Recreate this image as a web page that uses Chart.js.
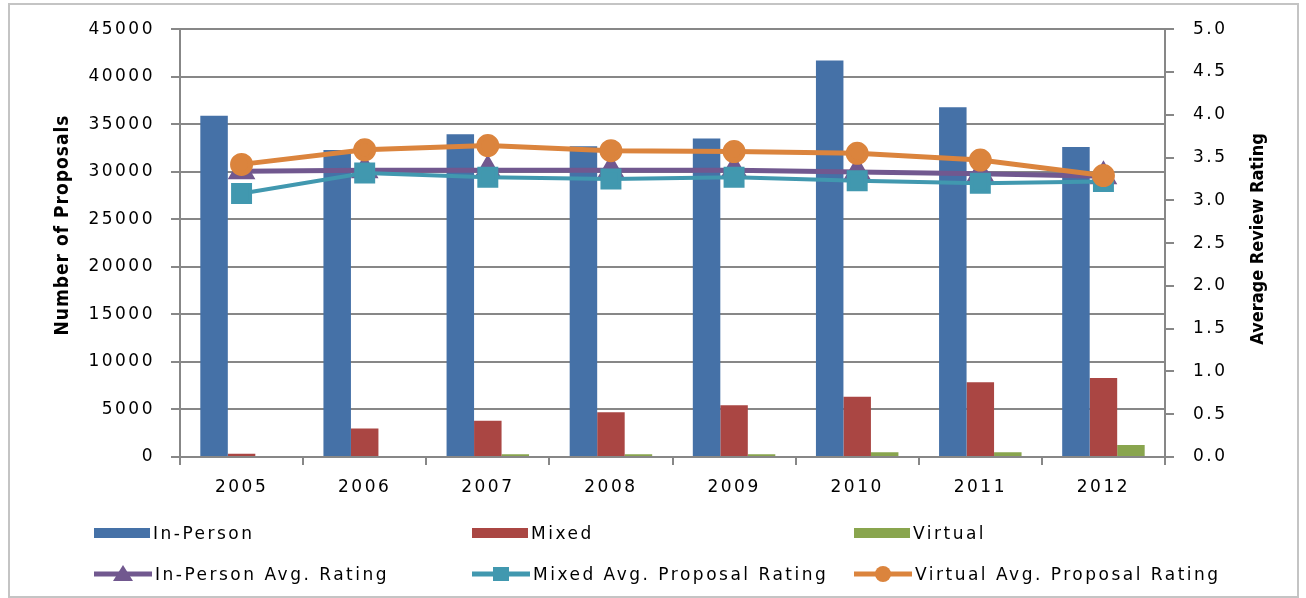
<!DOCTYPE html>
<html>
<head>
<meta charset="utf-8">
<script src="https://cdn.jsdelivr.net/npm/chart.js@4/dist/chart.umd.min.js"></script>
<style>
  body { margin: 0; background: #fff; }
  #wrap { position: relative; width: 1306px; height: 598px; }
  #frame { position: absolute; left: 8px; top: 3px; width: 1287px; height: 591px; border: 2px solid #c4c4c4; pointer-events: none; }
  .ytitle { position: absolute; white-space: nowrap; transform: translate(-50%, -50%) rotate(-90deg);
    font-family: "Liberation Sans Narrow", "DejaVu Sans Condensed", sans-serif; font-weight: bold; font-size: 19px; color: #000; letter-spacing: 1px; }
  .lg { position: absolute; height: 20px; display: flex; align-items: center; white-space: nowrap;
    font-family: "DejaVu Sans", sans-serif; font-size: 17px; letter-spacing: 2.5px; color: #000; }
  .lg svg { margin-right: 3px; }
</style>
</head>
<body>
<div id="wrap">
  <canvas id="chart"></canvas>
  <div id="frame"></div>
  <div class="ytitle" style="left:61px; top:225px">Number of Proposals</div>
  <div class="ytitle" style="left:1256px; top:239px; font-size:18px; letter-spacing:0">Average Review Rating</div>
  <div id="legend"></div>
</div>
<script>
// Datos
const years = ["2005", "2006", "2007", "2008", "2009", "2010", "2011", "2012"];
const inPerson = [35900, 32300, 33950, 32700, 33500, 41700, 36800, 32600];
const mixed = [350, 3000, 3800, 4700, 5450, 6350, 7850, 8300];
const virtual = [0, 0, 300, 300, 300, 500, 500, 1250];
const inPersonRating = [3.34, 3.35, 3.35, 3.35, 3.35, 3.33, 3.31, 3.28];
const mixedRating = [3.08, 3.32, 3.27, 3.25, 3.27, 3.23, 3.20, 3.22];
const virtualRating = [3.42, 3.59, 3.64, 3.58, 3.57, 3.55, 3.47, 3.29];

const labelsBars = ["In-Person", "Mixed", "Virtual"];
const labelsLines = ["In-Person Avg. Rating", "Mixed Avg. Proposal Rating", "Virtual Avg. Proposal Rating"];

const blue = "#4571a7", red = "#aa4643", green = "#89a54e";
const purple = "#71588f", teal = "#4198af", orange = "#db843d";
const gridGray = "#878787";
const tickFont = { family: "DejaVu Sans", size: 17 };

// espaciado entre letras como en el original
const spacing = {
  id: "spacing",
  beforeDraw(c) { c.ctx.letterSpacing = "2.5px"; }
};

const ctx = document.getElementById("chart");
const chart = new Chart(ctx, {
  data: {
    labels: years,
    datasets: [
      { type: "bar", label: labelsBars[0], data: inPerson, backgroundColor: blue, yAxisID: "y", order: 4 },
      { type: "bar", label: labelsBars[1], data: mixed, backgroundColor: red, yAxisID: "y", order: 4 },
      { type: "bar", label: labelsBars[2], data: virtual, backgroundColor: green, yAxisID: "y", order: 4 },
      { type: "line", label: labelsLines[0], data: inPersonRating, borderColor: purple, backgroundColor: purple,
        borderWidth: 5, pointStyle: "triangle", pointRadius: 11, yAxisID: "y1", order: 3 },
      { type: "line", label: labelsLines[1], data: mixedRating, borderColor: teal, backgroundColor: teal,
        borderWidth: 4, pointStyle: "rect", pointRadius: 12, yAxisID: "y1", order: 2 },
      { type: "line", label: labelsLines[2], data: virtualRating, borderColor: orange, backgroundColor: orange,
        borderWidth: 5, pointStyle: "circle", pointRadius: 9, yAxisID: "y1", order: 1 }
    ]
  },
  options: {
    responsive: true,
    maintainAspectRatio: false,
    animation: false,
    layout: { padding: { top: 28, left: 0, right: 0, bottom: 0 } },
    datasets: { bar: { barPercentage: 1, categoryPercentage: 0.67 } },
    plugins: { legend: { display: false }, tooltip: { enabled: false } },
    scales: {
      x: {
        offset: true,
        grid: { offset: true, drawOnChartArea: false, color: gridGray, lineWidth: 2, tickLength: 8 },
        border: { color: gridGray, width: 2 },
        ticks: { color: "#000", font: tickFont, padding: 12, maxRotation: 0 },
        afterFit(s) { s.height = 141; }
      },
      y: {
        position: "left", min: 0, max: 45000,
        grid: { color: gridGray, lineWidth: 2, tickLength: 9 },
        border: { color: gridGray, width: 2 },
        ticks: { stepSize: 5000, color: "#000", font: tickFont, padding: 16, callback: v => String(v) },
        afterFit(s) { s.width = 180; }
      },
      y1: {
        position: "right", min: 0, max: 5,
        grid: { drawOnChartArea: false, color: gridGray, lineWidth: 2, tickLength: 9 },
        border: { color: gridGray, width: 2 },
        ticks: { stepSize: 0.5, color: "#000", font: tickFont, padding: 19, callback: v => v.toFixed(1) },
        afterFit(s) { s.width = 141; }
      }
    }
  },
  plugins: [spacing]
});

// Leyenda en HTML: dos filas, tres columnas
const legend = document.getElementById("legend");
const colX = [94, 472, 854];
const rowY = [533, 574];
function marker(ds, isBar) {
  const c = ds.backgroundColor;
  if (isBar) return `<svg width="56" height="20"><rect x="0" y="5" width="56" height="10" fill="${c}"/></svg>`;
  let shape = "";
  if (ds.pointStyle === "triangle") shape = `<polygon points="29,1 39,17 19,17" fill="${c}"/>`;
  else if (ds.pointStyle === "rect") shape = `<rect x="21" y="3" width="16" height="14" fill="${c}"/>`;
  else shape = `<circle cx="29" cy="10" r="8" fill="${c}"/>`;
  return `<svg width="58" height="20"><line x1="0" y1="10" x2="58" y2="10" stroke="${c}" stroke-width="5"/>${shape}</svg>`;
}
chart.data.datasets.forEach((ds, i) => {
  const row = i < 3 ? 0 : 1, col = i % 3;
  const el = document.createElement("div");
  el.className = "lg";
  el.style.left = colX[col] + "px";
  el.style.top = (rowY[row] - 10) + "px";
  el.innerHTML = marker(ds, row === 0) + `<span>${ds.label}</span>`;
  legend.appendChild(el);
});
</script>
</body>
</html>
